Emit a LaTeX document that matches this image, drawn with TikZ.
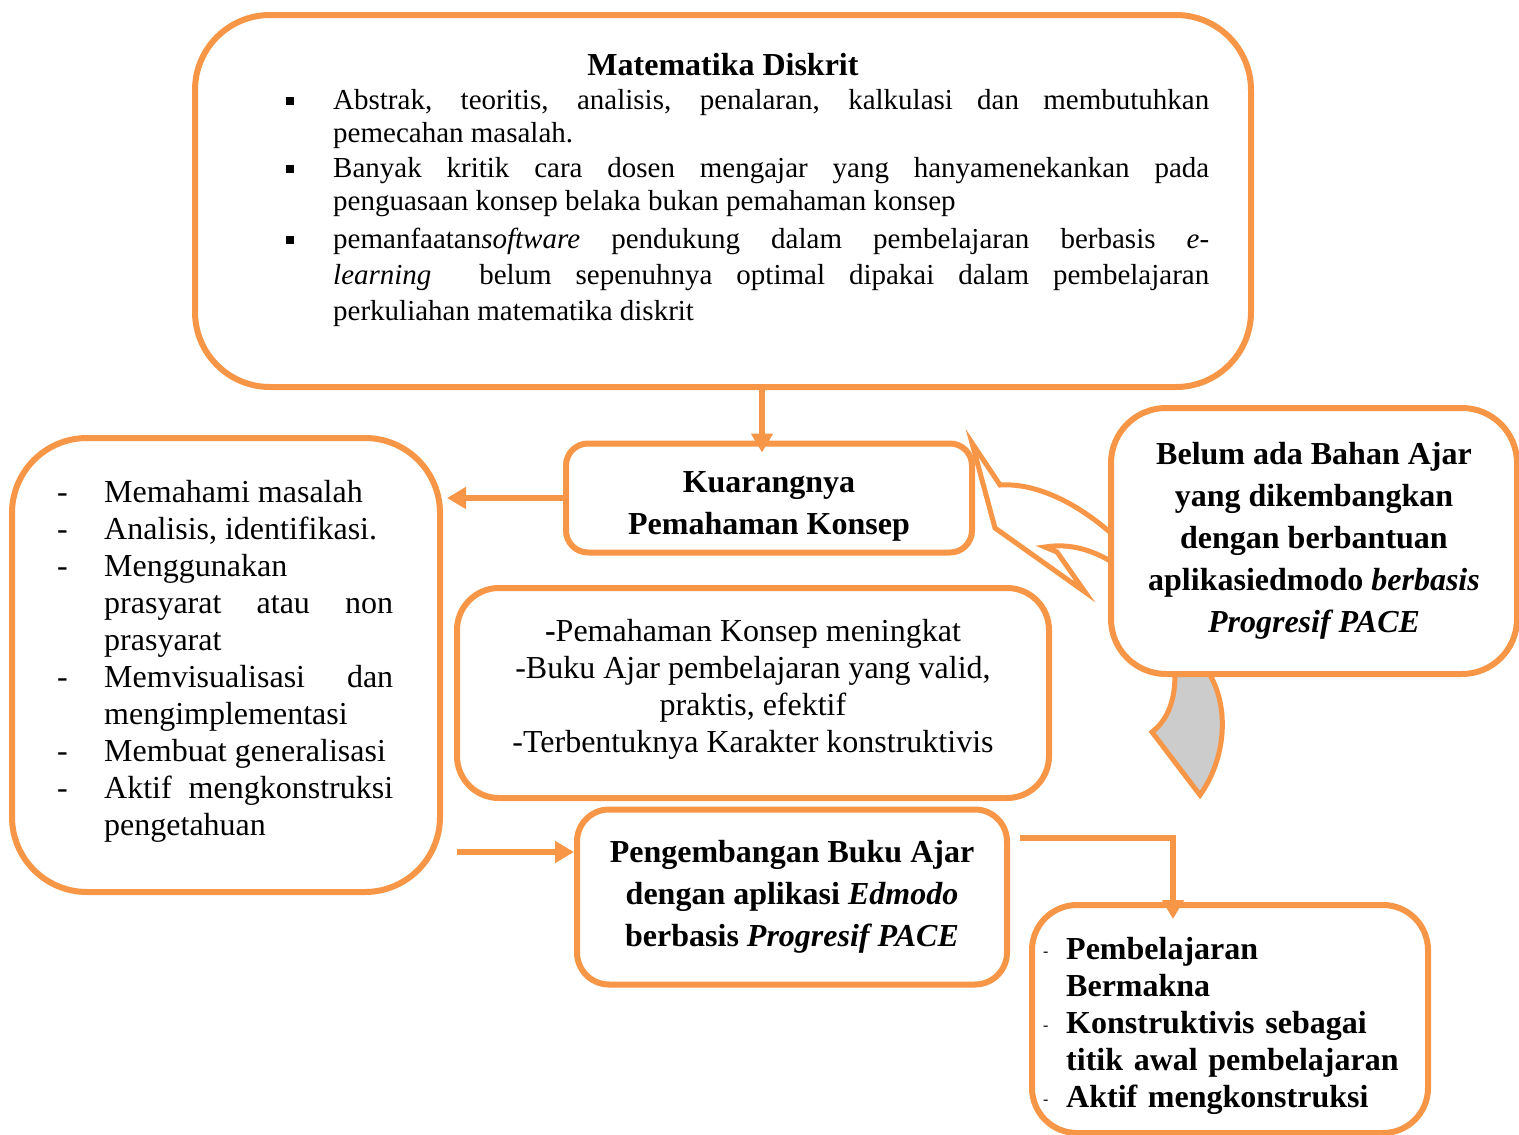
\documentclass[tikz,border=0pt]{standalone}
\usepackage{fontspec}
\setmainfont{Liberation Serif}
\usepackage{enumitem}
\definecolor{Oranye}{HTML}{F79646}
\definecolor{AbuAbu}{HTML}{CCCCCC}
\usetikzlibrary{arrows.meta,positioning}

\begin{document}
\begin{tikzpicture}[x=1pt,y=-1pt,>={Triangle[length=19pt,width=21pt]}]
\tikzstyle{kotak}=[draw=Oranye,line width=6pt,fill=white,align=center,font=\fontsize{32}{42}\selectfont\bfseries]
\tikzstyle{panah}=[draw=Oranye,line width=6pt,->]
\tikzstyle{isi}=[inner sep=0pt,anchor=north west,align=justify,font=\fontsize{32}{37}\selectfont]
\useasboundingbox (0,0) rectangle (1519,1135);
% callout and grey tail, behind the boxes
\draw[Oranye,line width=5pt,fill=white] (1112,534) .. controls (1070,497) and (1030,483) .. (1000,485) -- (972,443) -- (995,528) -- (1085,592) -- (1057,552) -- (1045,547) .. controls (1070,543) and (1092,550) .. (1112,562);
\draw[Oranye,line width=5pt,fill=AbuAbu] (1175,650) -- (1175,675) .. controls (1175,705) and (1165,722) .. (1152,732) -- (1200,795) .. controls (1225,760) and (1230,710) .. (1210,675) -- (1210,650);
% boxes
\node[kotak,minimum width=1056pt,minimum height=372pt,rounded corners=75pt] (atas) at (723,201) {};
\node[kotak,minimum width=406pt,minimum height=109pt,rounded corners=22pt] (kuar) at (769,498) {\rule{0pt}{38pt}Kuarangnya\\Pemahaman Konsep};
\node[kotak,minimum width=428pt,minimum height=454pt,rounded corners=75pt] (kiri) at (226,665) {};
\node[kotak,font=\fontsize{32}{37}\selectfont,minimum width=592pt,minimum height=210pt,rounded corners=42pt] (tengah) at (753,693) {\textbf{-}Pemahaman Konsep meningkat\\-Buku Ajar pembelajaran yang valid,\\praktis, efektif\\-Terbentuknya Karakter konstruktivis\rule[-15pt]{0pt}{15pt}};
\node[kotak,minimum width=430pt,minimum height=175pt,rounded corners=32pt] (kembang) at (792,897) {Pengembangan Buku Ajar\\dengan aplikasi \textit{Edmodo}\\berbasis \textit{Progresif PACE}};
\node[kotak,minimum width=406pt,minimum height=266pt,rounded corners=55pt] (kanan) at (1314,541) {Belum ada Bahan Ajar\\yang dikembangkan\\dengan berbantuan\\aplikasiedmodo \textit{berbasis}\\\textit{Progresif PACE}};
\node[kotak,minimum width=396pt,minimum height=228pt,rounded corners=45pt] (bawah) at (1230,1019) {};
% texts of the list boxes
\node[font=\fontsize{32}{37}\selectfont\bfseries,inner sep=0pt] (judul) at (723,65) {Matematika Diskrit};
\node[isi,text width=923pt,font=\fontsize{29}{33}\selectfont] (atasisi) at (286,76) {%
\begin{itemize}[label={\rule[4pt]{8pt}{8pt}},leftmargin=47pt,labelwidth=47pt,labelsep=0pt,align=left,nosep,itemsep=2pt]
\item Abstrak, teoritis, analisis, penalaran, kalkulasi dan membutuhkan\linebreak pemecahan masalah.
\item Banyak kritik cara dosen mengajar yang hanyamenekankan pada\linebreak penguasaan konsep belaka bukan pemahaman konsep
\item \baselineskip=36pt pemanfaatan\textit{software} pendukung dalam pembelajaran berbasis \textit{e-}\linebreak\textit{learning}\ \ belum sepenuhnya optimal dipakai dalam pembelajaran\linebreak perkuliahan matematika diskrit
\end{itemize}};
\node[isi,text width=336pt] (kiriisi) at (57,465) {%
\begin{itemize}[label=-,leftmargin=47pt,labelwidth=47pt,labelsep=0pt,align=left,nosep]
\item Memahami masalah
\item Analisis, identifikasi.
\item Menggunakan\newline prasyarat atau non\linebreak prasyarat
\item Memvisualisasi dan\linebreak mengimplementasi
\item Membuat generalisasi
\item Aktif mengkonstruksi\linebreak pengetahuan
\end{itemize}};
\node[isi,text width=370pt,align=left,font=\fontsize{32}{37}\selectfont\bfseries] (bawahisi) at (1043,922) {%
\begin{itemize}[label={\raisebox{3pt}{\normalfont\fontsize{16}{16}\selectfont -}},leftmargin=23pt,labelwidth=23pt,labelsep=0pt,align=left,nosep]
\item Pembelajaran\\ Bermakna
\item Konstruktivis sebagai\\ titik awal pembelajaran
\item Aktif mengkonstruksi
\end{itemize}};
% connectors
\coordinate (awal1) at (457,852);
\coordinate (awal2) at (1020,838);
\draw[panah] ([xshift=-7pt]kuar.north |- atas.south) -- ([xshift=-7pt,yshift=-12pt]kuar.north);
\draw[panah] (kuar.west) -- ([xshift=4pt]kiri.east |- kuar.west);
\draw[panah] (awal1) -- (awal1 -| kembang.west);
\draw[panah] (awal2) -| ([xshift=-57pt,yshift=-17pt]bawah.north);
\end{tikzpicture}
\end{document}
